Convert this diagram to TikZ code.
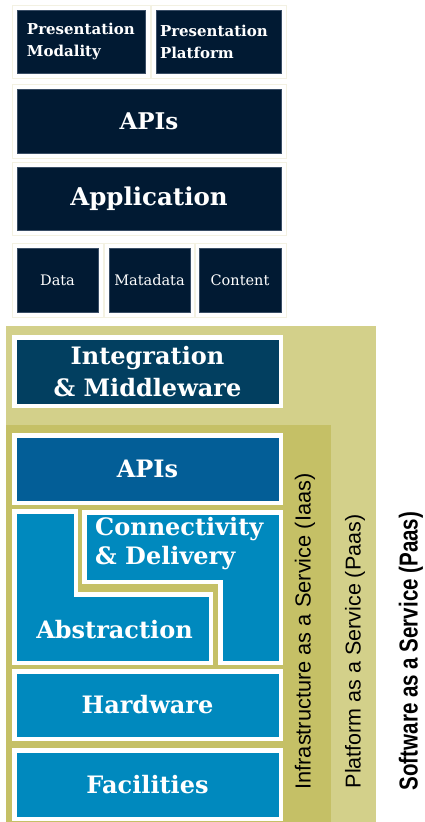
\documentclass[tikz,border=0pt]{standalone}
\usepackage{fontspec}
\setmainfont{DejaVu Serif}
\newfontfamily\arialf{Liberation Sans}
\definecolor{navy}{HTML}{011A33}
\definecolor{navyedge}{HTML}{3A4E66}
\definecolor{integ}{HTML}{023F60}
\definecolor{apiblue}{HTML}{035E97}
\definecolor{lblue}{HTML}{0089BE}
\definecolor{paas}{HTML}{D3D08A}
\definecolor{iaas}{HTML}{C5C066}
\definecolor{cream}{HTML}{F3F1E2}
\tikzset{
  topbox/.style={fill=navy, draw=navyedge, line width=0.8pt, inner sep=0pt, text=white, font=\bfseries},
  topframe/.style={draw=cream, line width=0.8pt},
  lowbox/.style={draw=white, line width=4.5pt, line join=miter, inner sep=0pt, text=white, font=\bfseries},
  lowtext/.style={text=white, font=\bfseries, inner sep=0pt},
  rottext/.style={rotate=90, inner sep=0pt, anchor=center},
}
\begin{document}
\begin{tikzpicture}[x=1pt,y=-1pt]
\useasboundingbox (0,0) rectangle (424,822);
% ---- top section frames
\draw[topframe] (12,5) rectangle (150,78);
\draw[topframe] (151,5) rectangle (286,78);
\draw[topframe] (12,84) rectangle (286,158);
\draw[topframe] (12,162) rectangle (286,235);
\draw[topframe] (12,243) rectangle (103,317);
\draw[topframe] (104,243) rectangle (195,317);
\draw[topframe] (194,243) rectangle (286,317);
% ---- top section boxes
\node[topbox, minimum height=63pt, text width=108pt, inner xsep=10pt, align=left,
      font=\bfseries\fontsize{15}{22}\selectfont] (pm) at (81,41.5) {Presentation\\Modality};
\node[topbox, minimum height=63pt, text width=117pt, inner xsep=4pt, align=left,
      font=\bfseries\fontsize{15}{22}\selectfont] (pp) at (218.5,41.5) {Presentation\\Platform};
\node[topbox, minimum width=264pt, minimum height=64pt, font=\bfseries\fontsize{23}{26}\selectfont] (apitop) at (149,121) {APIs};
\node[topbox, minimum width=264pt, minimum height=63pt, font=\bfseries\fontsize{24.5}{26}\selectfont] (app) at (149,198.5) {Application};
\node[topbox, minimum width=81pt, minimum height=64pt, font=\fontsize{14.5}{16}\selectfont] (data) at (57.5,280) {Data};
\node[topbox, minimum width=81pt, minimum height=64pt, font=\fontsize{14.5}{16}\selectfont] (meta) at (149.5,280) {Matadata};
\node[topbox, minimum width=82pt, minimum height=64pt, font=\fontsize{14.5}{16}\selectfont] (content) at (240,280) {Content};
% ---- olive backgrounds
\fill[paas] (6,326) rectangle (376,822);
\fill[iaas] (6,425) rectangle (331,822);
% ---- lower boxes
\node[lowbox, fill=integ, minimum width=266.5pt, minimum height=68.5pt, align=center,
      font=\bfseries\fontsize{24}{32}\selectfont] (integ) at (147.5,371.5) {Integration\\\& Middleware};
\node[lowbox, fill=apiblue, minimum width=266.5pt, minimum height=67.5pt,
      font=\bfseries\fontsize{24}{26}\selectfont] (apilow) at (147.5,469) {APIs};
\draw[lowbox, fill=lblue] (14.25,511.25) -- (75.75,511.25) -- (75.75,594.25) -- (210.75,594.25)
      -- (210.75,662.75) -- (14.25,662.75) -- cycle;
\draw[lowbox, fill=lblue] (84.25,512.25) -- (280.75,512.25) -- (280.75,662.75) -- (220.25,662.75)
      -- (220.25,581.75) -- (84.25,581.75) -- cycle;
\node[lowtext, font=\bfseries\fontsize{24}{29}\selectfont] (abs) at (114.5,630) {Abstraction};
\node[lowtext, anchor=west, align=left, font=\bfseries\fontsize{24}{29}\selectfont] (conn) at (95,544) {Connectivity\\\& Delivery};
\node[lowbox, fill=lblue, minimum width=266.5pt, minimum height=67.5pt,
      font=\bfseries\fontsize{24}{26}\selectfont] (hw) at (147.5,705) {Hardware};
\node[lowbox, fill=lblue, minimum width=266.5pt, minimum height=68.5pt,
      font=\bfseries\fontsize{24}{26}\selectfont] (fac) at (147.5,784.5) {Facilities};
% ---- rotated labels
\node[rottext, font=\arialf\fontsize{21.8}{24}\selectfont] (iaaslbl) at (305,631.5) {Infrastructure as a Service (Iaas)};
\node[rottext, font=\arialf\fontsize{21.5}{24}\selectfont] (paaslbl) at (355,651.5) {Platform as a Service (Paas)};
\node[rottext, font=\arialf\bfseries\fontsize{26}{28}\selectfont] (saaslbl) at (411,651) {\scalebox{0.79}[1]{Software as a Service (Paas)}};
\end{tikzpicture}
\end{document}
